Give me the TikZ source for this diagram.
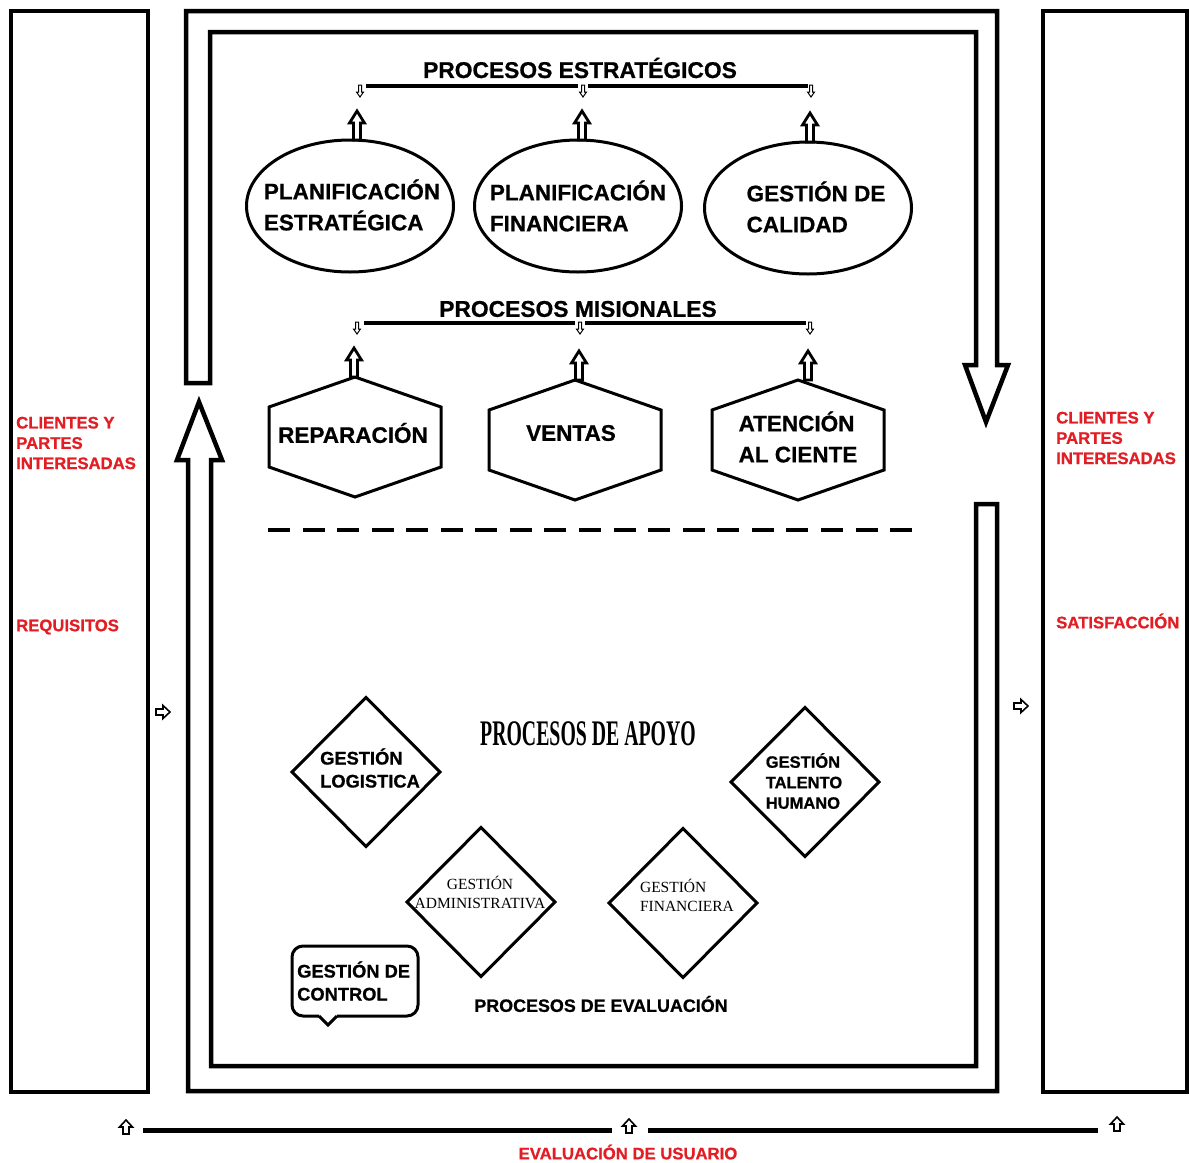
\documentclass[tikz,border=0pt]{standalone}
\usepackage{fontspec}
\usepackage{graphicx}
\setmainfont{Liberation Sans}[BoldFeatures={FakeBold=0.8}]
\newfontfamily\serifff{Liberation Serif}
\usetikzlibrary{shapes.geometric}
\definecolor{redtxt}{RGB}{226,30,36}
\begin{document}
\begin{tikzpicture}[x=1pt,y=-1pt,
  frame/.style={draw=black,line width=4pt},
  flow/.style={draw=black,line width=4.5pt,line join=miter,fill=white},
  shp/.style={draw=black,line width=3pt,outer sep=0pt},
  ell/.style={shp,ellipse,minimum width=207pt,minimum height=132pt,inner sep=0pt},
  dia/.style={shp,diamond,minimum width=148pt,minimum height=149pt,inner sep=0pt,aspect=1},
  bar/.style={draw=black,line width=4pt},
  txt/.style={inner sep=0pt,align=left},
  ttl/.style={inner sep=0pt,font=\bfseries\fontsize{22.8}{25}\selectfont},
  big/.style={txt,font=\bfseries\fontsize{22.5}{31}\selectfont},
  mid/.style={txt,font=\bfseries\fontsize{18.3}{23}\selectfont},
  sml/.style={txt,font=\bfseries\fontsize{16.5}{20.5}\selectfont},
  ser/.style={inner sep=0pt,align=center,font=\serifff\fontsize{15.5}{19}\selectfont},
  red/.style={txt,text=redtxt,font=\bfseries\fontsize{16.7}{20.3}\selectfont},
  bigup/.pic={\draw[line width=2.8pt,fill=white,line join=miter]
     (-3.5,0) -- (-3.5,-17) -- (-7.5,-17) -- (0,-29) -- (7.5,-17) -- (3.5,-17) -- (3.5,0) -- cycle;},
  smalldown/.pic={\draw[line width=1pt,fill=white]
     (-1.5,-1) -- (-1.5,6) -- (-3.5,6) -- (0,11) -- (3.5,6) -- (1.5,6) -- (1.5,-1) -- cycle;},
  smallup/.pic={\draw[line width=1.6pt,fill=white]
     (-3,7) -- (-3,0) -- (-6.5,0) -- (0,-7) -- (6.5,0) -- (3,0) -- (3,7) -- cycle;},
  smallright/.pic={\draw[line width=1.6pt,fill=white]
     (-7,-3) -- (0,-3) -- (0,-6.5) -- (7,0) -- (0,6.5) -- (0,3) -- (-7,3) -- cycle;}
]
\useasboundingbox (0,0) rectangle (1190,1162);
\fill[white] (0,0) rectangle (1190,1162);

% side frames
\draw[frame] (11,11) rectangle (148,1092);
\draw[frame] (1043,11) rectangle (1187,1092);

% big flow arrows
\draw[flow] (186,383) -- (186,11) -- (997,11) -- (997,365) -- (1008,365) -- (986,422)
  -- (965,365) -- (976,365) -- (976,32) -- (210,32) -- (210,383) -- cycle;
\draw[flow] (976,504) -- (997,504) -- (997,1091) -- (188,1091) -- (188,460) -- (177,460)
  -- (199,402) -- (222,460) -- (211,460) -- (211,1066) -- (976,1066) -- cycle;

% strategic processes
\node[ttl] (pe) at (580,68) {PROCESOS ESTRATÉGICOS};
\coordinate (sa1) at (360,86);
\coordinate (sa2) at (583,86);
\coordinate (sa3) at (811,86);
\draw[bar] ([xshift=6pt]sa1) -- ([xshift=-5pt]sa2);
\draw[bar] ([xshift=5pt]sa2) -- ([xshift=-3pt]sa3);
\foreach \c in {sa1,sa2,sa3} \path (\c) pic {smalldown};

\node[ell] (e1) at (350,206) {};
\node[ell] (e2) at (578,206) {};
\node[ell] (e3) at (808,208) {};
\node[big] (t1) at (352,205) {PLANIFICACIÓN\\ESTRATÉGICA};
\node[big] (t2) at (578,206) {PLANIFICACIÓN\\FINANCIERA};
\node[big] (t3) at (816,207) {GESTIÓN DE\\CALIDAD};
\path ([xshift=7pt]e1.north) pic {bigup};
\path ([xshift=4pt]e2.north) pic {bigup};
\path ([xshift=2pt]e3.north) pic {bigup};

% missional processes
\node[ttl] (pm) at (578,309) {PROCESOS MISIONALES};
\coordinate (sm1) at (357,323);
\coordinate (sm2) at (580,323);
\coordinate (sm3) at (810,323);
\draw[bar] ([xshift=7pt]sm1) -- ([xshift=-5pt]sm2);
\draw[bar] ([xshift=5pt]sm2) -- ([xshift=-4pt]sm3);
\foreach \c in {sm1,sm2,sm3} \path (\c) pic {smalldown};

\node[big] (h1) at (353,433) {REPARACIÓN};
\node[big] (h2) at (571,433) {VENTAS};
\node[big] (h3) at (798,437) {ATENCIÓN\\AL CIENTE};
\coordinate (hc1) at (355,437);
\coordinate (hc2) at (575,440);
\coordinate (hc3) at (798,440);
\foreach \c in {hc1,hc2,hc3}
  \draw[shp,line join=miter] (\c) ++(0,-60) -- ++(86,30) -- ++(0,60) -- ++(-86,30)
     -- ++(-86,-30) -- ++(0,-60) -- cycle;
\path ([xshift=-1pt,yshift=60pt]hc1) pic {bigup};
\path ([xshift=4pt,yshift=60pt]hc2) pic {bigup};
\path ([xshift=10pt,yshift=60pt]hc3) pic {bigup};

% divider
\draw[line width=4pt,dash pattern=on 22pt off 12.56pt] (268,530) -- (912,530);

% support processes
\node[inner sep=0pt] (pa) at (588,734)
  {\scalebox{0.55}[1]{\serifff\bfseries\fontsize{36}{40}\selectfont PROCESOS DE APOYO}};
\node[dia] (d1) at (366,772) {};
\node[dia] (d2) at (805,782) {};
\node[dia] (d3) at (481,902) {};
\node[dia] (d4) at (683,903) {};
\node[mid] (t1b) at (370,768) {GESTIÓN\\LOGISTICA};
\node[sml] (t2b) at (804,781) {GESTIÓN\\TALENTO\\HUMANO};
\node[ser] (t3b) at (480,892) {GESTIÓN\\ADMINISTRATIVA};
\node[ser,align=left] (t4b) at (687,895) {GESTIÓN\\FINANCIERA};

% control callout
\draw[shp,rounded corners=11pt] (337,1016) -- (418,1016) -- (418,946) -- (292,946) -- (292,1016) -- (319,1016);
\draw[shp,line join=miter] (319,1016) -- (328,1025) -- (337,1016);
\node[mid,anchor=west] (gc) at (297,981) {GESTIÓN DE\\CONTROL};
\node[ttl,font=\bfseries\fontsize{17.9}{22}\selectfont] (pev) at (601,1004) {PROCESOS DE EVALUACIÓN};

% side labels
\node[red,anchor=west] (cl) at (16,443) {CLIENTES Y\\PARTES\\INTERESADAS};
\node[red,anchor=west] (rq) at (16,627) {REQUISITOS};
\node[red,anchor=west] (cr) at (1056,438) {CLIENTES Y\\PARTES\\INTERESADAS};
\node[red,anchor=west] (st) at (1056,621) {SATISFACCIÓN};
\path (163,712) pic {smallright};
\path (1021,706) pic {smallright};

% user evaluation
\coordinate (u1) at (126,1127);
\coordinate (u2) at (629,1126);
\coordinate (u3) at (1117,1124);
\draw[line width=5pt] (143,1130) -- (612,1130);
\draw[line width=5pt] (648,1130) -- (1098,1130);
\foreach \c in {u1,u2,u3} \path (\c) pic {smallup};
\node[red] (eu) at (628,1152) {EVALUACIÓN DE USUARIO};
\end{tikzpicture}
\end{document}
